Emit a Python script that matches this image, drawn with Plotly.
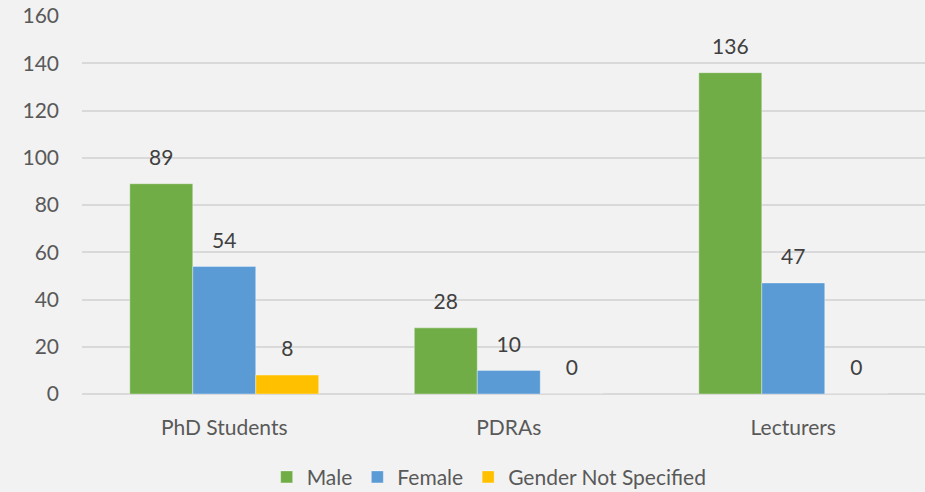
import plotly.graph_objects as go

# Chart data
categories = ["PhD Students", "PDRAs", "Lecturers"]
series_names = ["Male", "Female", "Gender Not Specified"]
male = [89, 28, 136]
female = [54, 10, 47]
not_specified = [8, 0, 0]
y_ticks = [0, 20, 40, 60, 80, 100, 120, 140, 160]

colors = ["#70AD47", "#5B9BD5", "#FFC000"]
FONT = "Lato, 'Open Sans', sans-serif"

fig = go.Figure()

for i, (name, vals) in enumerate(zip(series_names, [male, female, not_specified])):
    fig.add_trace(go.Bar(
        x=categories, y=vals, name=name,
        offsetgroup=str(i), alignmentgroup="g",
        marker=dict(color=colors[i], line=dict(color="rgba(255,255,255,0.45)", width=0.8)),
    ))
    # value labels sit above each bar, aligned through the same offset group
    fig.add_trace(go.Scatter(
        x=categories, y=vals, mode="markers+text",
        offsetgroup=str(i), alignmentgroup="g",
        text=[str(v) for v in vals], textposition="top center",
        textfont=dict(family=FONT, size=21, color="#404040"),
        marker=dict(size=20, opacity=0),
        showlegend=False, hoverinfo="skip", cliponaxis=False,
    ))

fig.update_layout(
    width=925, height=492,
    margin=dict(l=82, r=0, t=16, b=98, autoexpand=False),
    paper_bgcolor="#F2F2F2", plot_bgcolor="#F2F2F2",
    barmode="group", bargap=0.336, bargroupgap=0,
    scattermode="group",
    font=dict(family=FONT, size=21, color="#595959"),
    legend=dict(
        orientation="h", x=0.483, xanchor="center",
        yref="container", y=0.03, yanchor="middle",
        font=dict(family=FONT, size=21, color="#595959"),
        itemwidth=30, tracegroupgap=0,
    ),
    xaxis=dict(
        range=[-0.5, 2.463], showgrid=False, showline=False,
        ticks="", ticklabelstandoff=19,
        tickfont=dict(family=FONT, size=21, color="#595959"),
    ),
    yaxis=dict(
        range=[0, 160], tickvals=y_ticks,
        gridcolor="#D9D9D9", gridwidth=1.5,
        zeroline=True, zerolinecolor="#D9D9D9", zerolinewidth=1.8,
        showline=False, ticks="", ticklabelstandoff=22,
        tickfont=dict(family=FONT, size=21, color="#595959"),
    ),
)

# drop the default page margin so the figure fills the window
fig.write_html(
    "out.html",
    config={"displayModeBar": False},
    post_script="document.body.style.margin='0';",
)
